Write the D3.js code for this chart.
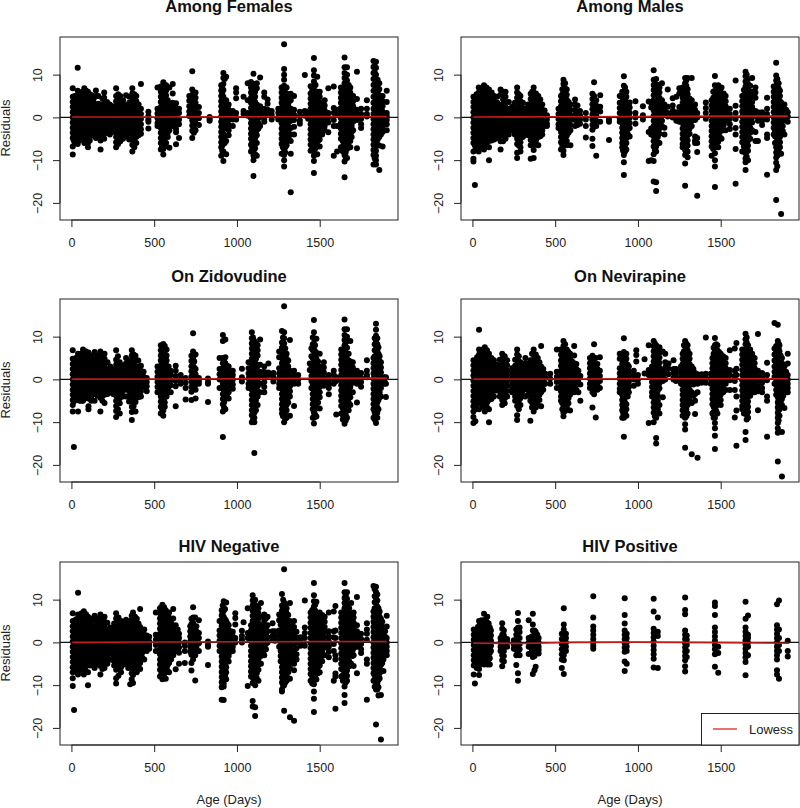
<!DOCTYPE html>
<html>
<head>
<meta charset="utf-8">
<script src="https://cdn.jsdelivr.net/npm/d3@7"></script>
<style>
  html, body { margin: 0; padding: 0; background: #fff; }
  svg { display: block; font-family: "Liberation Sans", Arial, sans-serif; }
</style>
</head>
<body>
<svg id="chart" width="800" height="808"></svg>
<script>
const X_TICKS = [0, 500, 1000, 1500];
const Y_TICKS = [-20, -10, 0, 10];
const X_DOMAIN = [-69, 1973];
const Y_DOMAIN = [-24, 18.8];

// each column is [age in days, residuals read at that age]
const females = [
  [8,[6.8,4.8,3.6,2.4,1.2,0,-1.2,-2.4,-3.6,-4.8,-6.8,-8.7]],
  [20,[5,3.8,2.5,1.3,.1,-1.1,-2.3,-3.5,-4.7,-6]],
  [38,[11.6,6.2,5,3.7,2.5,1.4,.2,-1,-2.2,-3.4,-4.6,-6.2]],
  [58,[5.4,4.2,3,1.8,.6,-.6,-1.8,-3,-4.2,-5.2]],
  [78,[6.8,5.6,4.4,3.2,2,.8,-.4,-1.6,-2.8,-4,-5.2,-6]],
  [100,[6,4.7,3.5,2.3,1.1,-.1,-1.3,-2.5,-3.7,-4.9,-6,-7]],
  [122,[5.2,4,2.8,1.6,.4,-.8,-2,-3.2,-4.3]],
  [148,[6.3,5,2.6,1.4,.2,-1,-2.2,-3.4,-4.8]],
  [176,[3,1.8,.6,-.6,-1.8,-3,-4.2,-5.4,-7.5]],
  [198,[5.8,4.6,3.4,2.2,1,-.2,-1.4,-2.6,-3.8,-5]],
  [232,[3,1.8,.6,-.6,-1.8,-3,-4]],
  [270,[6.8,5,3.8,2.6,1.4,.2,-1,-2.2,-3.4,-4.6,-5.8,-7]],
  [295,[5,3.8,2.6,1.4,.2,-1,-2.2,-3.4,-4.6,-5.6]],
  [330,[5.2,2.8,1.6,.4,-.8,-2,-3.2,-4.4]],
  [368,[6.8,5.6,4.4,3.2,2,.8,-.4,-1.6,-2.8,-4,-5.2,-6.4,-8]],
  [392,[5,3.8,2.6,1.4,.2,-1,-2.2,-3.4,-4.6,-6]],
  [420,[7.8,2,.8,-.4,-1.6,-2.8,-3.8]],
  [465,[1.3,.3,-.5,-1,-2.6]],
  [520,[7,2,.9,-.2,-1.3,-2]],
  [540,[7.2,6,4.8,3.6,2.4,1.2,0,-1.2,-2.4,-3.6,-4.8,-6,-7.5]],
  [555,[8.2,7,5.8,4.6,3.4,2.2,1,-.2,-1.4,-2.6,-3.8,-5,-6.2,-7.4,-8.7]],
  [572,[7.5,6.3,5.1,3.9,2.7,1.5,.3,-.9,-2.1,-3.3,-4.5,-6]],
  [592,[7,3,1.8,.6,-.6,-1.8,-3,-7.1]],
  [612,[7.8,5.6,3.4,2.2,1,-.2,-1.4,-2]],
  [632,[3.3,2.1,.9,-.3,-1.5,-2.7,-3.5,-6.3]],
  [650,[2,1,-.5,-1.6,-4.8]],
  [712,[5,3.9,2.6,1.4,.3]],
  [730,[10.8,6.5,5.3,4.1,2.9,1.7,.5,-.7,-1.9,-3.1,-4.8]],
  [750,[5.8,4.6,3.4,2.2,1,-.2,-1.4,-3]],
  [770,[2.4,1,-.2,-1.8]],
  [835,[.1,-.4,-.8]],
  [905,[7.5,6.3,5,3.8,2.6,1.4,.2,-1,-2.2,-3.4,-4.6,-5.8,-7,-9]],
  [918,[10.4,9.2,7.8,6.4,4.8,3.4,2.2,1,-.2,-1.4,-2.6,-3.8,-5,-6.2,-8,-10.2]],
  [935,[9.5,4,2.8,1.6,.4,-.8,-2,-5.5,-8.6]],
  [950,[3,1.8,.6,-.6,-1.8,-3,-4.2]],
  [975,[1.5,.5,-.5,-2]],
  [995,[6.8,5.8,4.5,1,0,-.5]],
  [1040,[4.8,1.5,.8]],
  [1065,[8,4,1,.4]],
  [1085,[8.3,7,5.8,4.6,3.4,2.2,1,-.2,-1.4,-2.6,-3.8,-5,-6.4,-8]],
  [1100,[10.2,7.8,6.6,5.4,4.2,3,1.8,.6,-.6,-1.8,-3,-4.2,-5.4,-6.6,-7.8,-9,-10,-13.7]],
  [1120,[8,6.8,3,1.8,.6,-.6,-1.8,-3,-4.2,-6,-9]],
  [1140,[9.3,2.6,1.4,.2,-2]],
  [1165,[5.8,4.8,2,.8,-.4,-1]],
  [1185,[4.2,3.2,1.8,1]],
  [1210,[1.5,.6,-.5]],
  [1250,[2,1,0,-.5]],
  [1270,[7,5.8,4.6,3.4,2.2,1,-.2,-1.4,-2.6,-3.8,-5,-6.2,-8.5]],
  [1285,[17.1,11.3,10,8.8,7.4,6,4.6,3.2,2,.8,-.4,-1.6,-2.8,-4,-5.2,-6.4,-7.6,-8.8,-10,-11.5]],
  [1300,[7,5.6,4.2,3,1.8,.6,-.6,-1.8,-3,-4.2,-5.4,-6.5]],
  [1325,[5.5,4,2,.8,-.8,-2.5,-4,-5.5,-8.5,-17.5]],
  [1345,[5,1.8,.6,-.6,-2.2,-4]],
  [1380,[1.3,.3,-.7,-1.5]],
  [1410,[9.9,1.5,.4]],
  [1430,[1.3,.5,-.3]],
  [1445,[7.3,5.6,4.4,3.2,2,.8,-.4,-1.6,-2.8,-4,-5.2,-6.4,-7.8]],
  [1465,[13.9,11,9.8,8.4,7,5.6,4.2,3,1.8,.6,-.6,-1.8,-3,-4.2,-5.4,-6.6,-7.8,-9,-10.2,-13]],
  [1485,[9.5,6,4.6,3.2,2,.8,-.4,-1.6,-2.8,-4.6,-6.5,-8.6]],
  [1500,[6,4.8,3.6,2.4,1.2,0,-1.2,-2.4,-3.6,-5.2,-6.8]],
  [1530,[4,2.8,1.6,.4,-.8,-2,-3]],
  [1552,[6.8,1,0,-1.2,-3.5]],
  [1585,[7.2,2.2,1,-.6,-2,-9]],
  [1605,[1.8,.6,-2,-8]],
  [1628,[7,5.8,4.6,3.4,2.2,1,-.2,-1.4,-2.6,-3.8,-5,-7]],
  [1650,[14,11.7,10.4,9.2,8,6.8,5.6,4.4,3.2,2,.8,-.4,-1.6,-2.8,-4,-5.2,-6.4,-7.6,-8.8,-10.3,-14]],
  [1665,[11.7,10,8.6,7,5.8,4.6,3.4,2.2,1,-.2,-1.4,-2.6,-3.8,-5,-6.2,-7.4,-9.5]],
  [1685,[7,5.8,4.6,3.4,2.2,1,-.2,-1.4,-2.6,-4,-5.5,-7]],
  [1702,[5,3.8,2.6,1.4,.2,-1,-3]],
  [1725,[10.7,4.3,1.8,.6,-.6,-7.2]],
  [1750,[2,.8,-.4,-1.6,-2.5]],
  [1785,[4,2,.8,.2]],
  [1825,[13.2,11.8,10.4,9,7.6,6.2,4.8,3.4,2,.8,-.4,-1.6,-2.8,-4,-5.2,-6.4,-7.6,-8.8,-11]],
  [1840,[13,11.6,10,8.6,7.2,5.8,4.4,3,1.8,.6,-.6,-1.8,-3,-4.2,-5.4,-6.6,-7.8,-9,-10,-11]],
  [1860,[8,6.6,5.2,3.8,2.6,1.4,.2,-1,-2.2,-3.4,-4.6,-6.6,-12.3]],
  [1880,[5,3.8,2.6,1.4,.2,-1,-2.2,-3.4,-6.8]],
  [1905,[6.2,3.6,1,.2,-.6,-1.6,-3]]
];
const femalesDense = [
  [14,[4,2.9,1.7,.5,-.7,-1.9,-3,-4.2,-5.4]],[29,[4.4,3.2,1.9,.7,-.5,-1.7,-2.9,-4.1,-5.2]],[48,[5.8,4.4,3.1,1.9,.8,-.4,-1.6,-2.8,-4,-5.4]],
  [68,[6,4.8,3.6,2.4,1.2,0,-1.2,-2.4,-3.6,-4.6]],[89,[6.2,5,3.8,2.6,1.5,.2,-1,-2.2,-3.4,-4.4,-5.6]],[111,[5.4,4.2,2.9,1.7,.5,-.7,-1.9,-3.1,-4.3,-5.4]],
  [135,[4.4,3.4,2,.8,-.4,-1.6,-2.8,-4]],[162,[5,3.2,2,.8,-.4,-1.6,-2.8,-4]],[187,[4.4,2.6,1.2,0,-1.2,-2.4,-3.6,-4.8]],
  [215,[3.6,2.4,1.2,0,-1.2,-2.4,-3.6]],[250,[2.6,1.4,.2,-1,-2.2,-3.4]],[282,[5.4,4.4,3.2,2,.8,-.4,-1.6,-2.8,-4,-5.2,-6.2]],
  [312,[4,3.2,2,.8,-.4,-1.6,-2.8,-4,-5]],[349,[4.8,3.4,2.2,1,-.2,-1.4,-2.6,-3.8,-5.2]],[380,[5.4,4,2.8,1.6,.4,-.8,-2,-3.2,-4.4,-5.6,-7]],
  [406,[3,1.4,.2,-1,-2.2,-3.4,-4.2]],[547,[6.4,5.2,4,2.8,1.6,.4,-.8,-2,-3.2,-4.4,-5.6,-6.8]],[563,[7.6,6.4,5.2,4,2.8,1.6,.4,-.8,-2,-3.2,-4.4,-5.6,-6.8]],
  [582,[4,2.4,1.2,0,-1.2,-2.4,-3.6,-4.6]],[622,[2.8,1.6,.4,-.8,-2]],[740,[5.6,3.6,2.3,1.1,-.1,-1.3,-2.5,-3.6]],[911,[6.8,5.6,4.2,3,1.8,.6,-.6,-1.8,-3,-4.2,-5.4,-6.6,-7.8]],
  [926,[9,3.6,2.4,1.2,0,-1.2,-2.4,-4.4,-6]],[942,[2.2,1,-.2,-1.4,-2.6]],[1092,[7.4,6.2,5,3.8,2.6,1.4,.2,-1,-2.2,-3.4,-4.6,-5.8,-7]],
  [1110,[7.2,6,4.8,3.6,2.4,1.2,0,-1.2,-2.4,-3.6,-4.8,-6,-7.2,-8.6]],[1130,[2.2,1,-.2,-1.4,-2.6]],[1277,[6.4,5.2,4,2.8,1.6,.4,-.8,-2,-3.2,-4.4,-5.6,-7]],
  [1292,[6.8,5.4,4,2.6,1.4,.2,-1,-2.2,-3.4,-4.6,-5.8,-7,-8.2]],[1312,[4.8,3.4,2.4,1.2,0,-1.2,-2.4,-3.6,-4.8]],[1455,[6.4,5,3.8,2.6,1.4,.2,-1,-2.2,-3.4,-4.6,-5.8,-7]],
  [1475,[7.6,5,3.8,2.6,1.4,.2,-1,-2.2,-3.4,-4.6,-5.8,-7.2]],[1492,[5.4,4,2.6,1.4,.2,-1,-2.2,-3.4,-5.4]],[1515,[3.4,2.2,1,-.2,-1.4,-2.6,-4]],
  [1640,[6.4,5.2,4,2.8,1.6,.4,-.8,-2,-3.2,-4.4,-5.6,-6.8,-8]],[1657,[9,7.6,6.2,5,3.8,2.6,1.4,.2,-1,-2.2,-3.4,-4.6,-5.8,-7,-8.2,-9.4]],[1675,[7.6,6.4,5.2,4,2.8,1.6,.4,-.8,-2,-3.2,-4.4,-5.6,-6.8]],
  [1693,[5,3.8,2.6,1.4,.2,-1,-2,-3.4,-4.6]],[1832,[12,10.6,9.2,7.8,6.4,5,3.6,2.4,1.2,0,-1.2,-2.4,-3.6,-4.8,-6,-7.2,-8.4,-9.6]],[1850,[8.8,7.4,6,4.6,3.2,2,.8,-.4,-1.6,-2.8,-4,-5.2,-6.4]],
  [1870,[4.6,3.2,2,.8,-.4,-1.6,-2.8,-4]]
];

const males = [
  [6,[4.8,3.6,2.4,1.2,0,-1.2,-2.4,-3.6,-4.8,-6,-8,-9.7,-10.3]],
  [15,[4.2,3,1.8,.6,-.6,-1.8,-3,-4.2,-5.4,-6.6,-7.8,-15.8]],
  [38,[7,5.8,4.6,3.4,2.2,1,-.2,-1.4,-2.6,-3.8,-5,-6.2,-8]],
  [70,[7.5,6.3,5.1,3.9,2.7,1.5,.3,-.9,-2.1,-3.3,-4.5,-5.7,-7.5]],
  [100,[6.5,5.3,4.1,2.9,1.7,.5,-.7,-1.9,-3.1,-4.3,-5.5,-7,-10]],
  [132,[5,3.8,2.6,1.4,.2,-1,-2.2,-3.4,-4.6,-5.2]],
  [170,[6.5,5.3,2.9,1.7,.5,-.7,-1.9,-3.1,-4.3,-5.6,-7.5]],
  [200,[6,4.8,3.6,2.4,1.2,0,-1.2,-2.4,-3.6,-5]],
  [240,[2.5,1.3,.1,-1.1,-2.3,-3]],
  [270,[7,5.8,4.6,3.4,2.2,1,-.2,-1.4,-2.6,-3.8,-5,-6.2,-8.3,-9.5]],
  [290,[5,3.8,2.6,1.4,.2,-1,-2.2,-3.4,-4.6,-5.8,-7,-8]],
  [320,[2,.8,-.4,-1.6,-2.8,-4]],
  [352,[5.5,4.3,3.1,1.9,.7,-.5,-1.7,-2.9,-4.1,-5.3,-6.5,-9.7]],
  [370,[7,5.8,4.6,3.4,2.2,1,-.2,-1.4,-2.6,-3.8,-5,-6.2,-7.6,-9.5]],
  [398,[5,3.8,2.6,1.4,.2,-1,-2.2,-3.4,-4.6,-6.5]],
  [422,[3,1.8,.6,-.6,-1.8,-3,-4]],
  [450,[.5,-.5,-1.5,-2]],
  [520,[2,.8,-.4,-1.6,-2.5]],
  [535,[5,3.8,2.6,1.4,.2,-1,-2.2,-3.4,-4.6,-5.8,-7.5]],
  [550,[8.8,7.8,6.6,5.4,4.2,3,1.8,.6,-.6,-1.8,-3,-4.2,-5.4,-6.6,-7.8,-8.8]],
  [570,[6.5,5.3,4.1,2.9,1.7,.5,-.7,-1.9,-3.1,-4.3,-5.5,-6.5]],
  [592,[3,1.8,.6,-.6,-1.8,-3,-6.5]],
  [620,[4.2,3,1.8,.6,-.6,-2]],
  [650,[1.5,.5,-.5,-1.5]],
  [685,[1,-.5,-2,-4.7]],
  [725,[5.5,4.3,3.1,1.9,.7,-.5,-1.7,-2.9,-5,-6.7]],
  [735,[8.2,5,3.8,2.6,1.4,.2,-1,-2.2]],
  [748,[4,2.8,1.6,.4,-.8,-2,-9]],
  [772,[5.2,2.5,1.4,-1]],
  [825,[-.5,-1,-5.3]],
  [890,[5,3.4,2.2,1,-.2,-1]],
  [905,[6,4.8,3.6,2.4,1.2,0,-1.2,-2.4,-3.6,-4.8,-6,-7]],
  [915,[9.6,7.4,6,4.6,3.4,2.2,1,-.2,-1.4,-2.6,-3.8,-5,-6.2,-7.4,-8.8,-10.5,-13.5]],
  [930,[6,4.8,3.6,2.4,1.2,0,-1.2,-2.4,-3.6,-4.8,-6,-7.5]],
  [950,[3.5,2.3,1.1,-.1,-1.3,-2.5,-4.5]],
  [985,[3.8,1,0,-1.5]],
  [1030,[2.6,.5,-.5]],
  [1065,[3.7,-3.4,-10.2]],
  [1080,[3.5,2.3,-2.6,-4,-10]],
  [1095,[11,8.8,7.6,6.4,5.2,4,2.8,1.6,.4,-.8,-2,-3.2,-4.4,-5.6,-6.8,-8.6,-10.2,-15]],
  [1110,[9,7.6,6.4,5.2,4,2.8,1.6,.4,-.8,-2,-3.2,-4.4,-5.6,-6.8,-8,-15.2,-17.2]],
  [1130,[7,5.8,4.6,3.4,2.2,1,-.2,-1.4,-2.6,-3.8,-6]],
  [1145,[8,4,2.8,1.6,.4,-.8,-2]],
  [1160,[3,1.8,.6,-2.4,-4]],
  [1180,[6.5,2.5,1,.2]],
  [1210,[4.5,2.8,1.6,.6,0]],
  [1232,[4.8,1.2,0,-.8]],
  [1250,[6.8,5.6,2.4,1.2,0,-1]],
  [1270,[7,5.8,4.6,3.4,2.2,1,-.2,-1.4,-2.6,-3.8,-5,-6.2,-7]],
  [1285,[9.2,8,6.8,5.6,4.4,3.2,2,.8,-.4,-1.6,-2.8,-4,-5.2,-6.4,-7.6,-8.8,-10.8,-16]],
  [1300,[9.2,6.6,5.4,4.2,3,1.8,.6,-.6,-1.8,-3,-4.2,-5.4,-6.6,-8,-9.3]],
  [1325,[9.2,4,2.8,1.6,.4,-.8,-2]],
  [1345,[3,1.8,.6,-.6,-4.5,-5.4,-6]],
  [1358,[1,0,-4.8,-6,-8.1,-18.3]],
  [1410,[3.5,2.2,1,-.3]],
  [1445,[4,2.8,1.6,.4,-.8,-2,-3.2,-4.4,-5.6,-6.8,-9]],
  [1465,[9.7,7.5,6.2,5,3.8,2.6,1.4,.2,-1,-2.2,-3.4,-4.6,-5.8,-7,-8.4,-10,-11.5,-16.3]],
  [1485,[7.5,6.3,5.1,3.9,2.7,1.5,.3,-.9,-2.1,-3.3,-4.5,-5.7,-7]],
  [1505,[7,5.6,4.4,3.2,2,.8,-.4,-1.6,-2.8,-5]],
  [1530,[5,3.8,2.6,1.4,.2,-1,-3]],
  [1555,[2,.8,-.4,-1.6,-2.7]],
  [1590,[8.6,2.7,1,-.4,-2.5,-4,-7.4,-15.5]],
  [1630,[5,3.8,2.6,1.4,.2,-1,-2.2,-3.4,-4.6,-5.8,-8]],
  [1650,[10.7,9.6,8.4,7.2,6,4.8,3.6,2.4,1.2,0,-1.2,-2.4,-3.6,-4.8,-6,-7.2,-8.4,-9.6,-10.5,-12.3]],
  [1665,[9,7.8,6.6,5.4,4.2,3,1.8,.6,-.6,-1.8,-3,-4.2,-5.4,-6.6,-7.8,-10]],
  [1690,[9.2,6,4.8,3.6,2.4,1.2,0,-1.2,-3]],
  [1710,[7,5.8,4.6,1.5,.3,-3.4,-5.5]],
  [1725,[1.2,.2,-.8,-5.5]],
  [1750,[1.2,.2,-.8,-1.8]],
  [1780,[4.6,2,.8,-.5,-4,-4.8,-13.4]],
  [1820,[7.2,6,4.8,3.6,2.4,1.2,0,-1.2,-2.4,-4]],
  [1835,[12.8,9.8,8.6,7.4,6.2,5,3.8,2.6,1.4,.2,-1,-2.2,-3.4,-4.6,-5.8,-7,-8.2,-9.4,-10.6,-12.3,-19.3]],
  [1850,[8,6.8,5.6,4.4,3.2,2,.8,-.4,-1.6,-2.8,-4,-5.2,-6.4,-7.6,-8.5]],
  [1865,[3.5,2.3,1.1,-.1,-1.3,-2.5,-3.7,-8.5,-22.6]],
  [1885,[3,1.8,.6,-.6,-4]],
  [1905,[1.2,.2,-1]]
];
const malesDense = [
  [25,[5.4,4,2.8,1.6,.4,-.8,-2,-3.2,-4.4,-5.6,-7]],[48,[6.6,5.2,4,2.8,1.6,.4,-.8,-2,-3.2,-4.4,-5.6,-7]],[59,[7,5.6,4.4,3.2,2,.8,-.4,-1.6,-2.8,-4,-5.2,-6.6]],
  [85,[7,5.8,4.6,3.2,2.2,1,-.2,-1.4,-2.6,-3.8,-5,-6.6]],[116,[5.8,4.4,3.2,2,.8,-.4,-1.6,-2.8,-4,-5.4]],[150,[4.8,3.4,2.2,1,-.2,-1.4,-2.6,-3.8,-4.8]],
  [185,[6,4.2,3,1.8,.6,-.6,-1.8,-3,-4.2,-5.6]],[220,[3.6,2,.8,-.4,-1.6,-2.8,-4]],[256,[3.4,2,.8,-.4,-1.6,-2.8,-4]],[280,[5.4,4.2,3,1.8,.6,-.6,-1.8,-3,-4.2,-5.4,-6.6]],
  [305,[3.4,2.2,1,-.2,-1.4,-2.6,-3.8,-4.6]],[336,[3,1.8,.6,-.6,-1.8,-3,-4.2]],[361,[6,4.8,3.6,2.4,1.2,0,-1.2,-2.4,-3.6,-4.8,-6]],[384,[5.6,4.2,3,1.8,.6,-.6,-1.8,-3,-4.2,-5.4,-6.4]],
  [410,[4.2,3,1.8,.6,-.6,-1.8,-3,-4.4]],[436,[1.6,.4,-.8,-2]],[543,[6.6,5.4,4.2,3,1.8,.6,-.6,-1.8,-3,-4.2,-5.4,-6.6]],[560,[8,6.8,5.6,4.4,3.2,2,.8,-.4,-1.6,-2.8,-4,-5.2,-6.4]],
  [581,[3.6,2.4,1.2,0,-1.2,-2.4,-3.6]],[635,[2.8,1.4,.2,-1,-1.8]],[910,[5.4,4.2,3,1.8,.6,-.6,-1.8,-3,-4.2,-5.4,-6.6,-7.8]],[922,[7,5.4,4.2,3,1.8,.6,-.6,-1.8,-3,-4.2,-5.4,-6.6,-8]],
  [940,[3.2,2,.8,-.4,-1.6,-2.8,-4]],[1102,[8,6.8,5.6,4.4,3.2,2,.8,-.4,-1.6,-2.8,-4,-5.2,-6.4,-7.6]],[1120,[7.6,6.2,5,3.8,2.6,1.4,.2,-1,-2.2,-3.4,-4.6,-5.8]],[1278,[6.4,5.2,4,2.8,1.6,.4,-.8,-2,-3.2,-4.4,-5.6,-6.8]],
  [1292,[8.6,7.4,6.2,5,3.8,2.6,1.4,.2,-1,-2.2,-3.4,-4.6,-5.8,-7,-8.2]],[1312,[4.4,3.4,2.2,1,-.2,-1.4,-2.6,-3.8]],[1455,[6,4.6,3.4,2.2,1,-.2,-1.4,-2.6,-3.8,-5,-6.2,-7.4]],[1475,[7.2,5.8,4.4,3.2,2,.8,-.4,-1.6,-2.8,-4,-5.2,-6.4]],
  [1495,[6.2,5,3.8,2.6,1.4,.2,-1,-2.2,-3.4,-4.6]],[1518,[5.6,4.2,3,1.8,.6,-.6,-1.8,-3]],[1640,[6.4,5.2,4,2.8,1.6,.4,-.8,-2,-3.2,-4.4,-5.6,-6.8,-8]],[1657,[10,8.8,7.6,6.4,5.2,4,2.8,1.6,.4,-.8,-2,-3.2,-4.4,-5.6,-6.8,-8,-9.2]],
  [1678,[7.4,6,4.8,3.6,2.4,1.2,0,-1.2,-2.4,-3.6,-5]],[1828,[6.4,5.2,4,2.8,1.6,.4,-.8,-2,-3.2,-4.4,-6]],[1842,[9,7.8,6.6,5.4,4.2,3,1.8,.6,-.6,-1.8,-3,-4.2,-5.4,-6.6,-7.8,-9,-11.4]],[1858,[6.2,5,3.8,2.6,1.4,.2,-1,-2.2,-3.4,-4.6,-5.8,-7]],
  [1875,[2.8,1.6,.4,-.8,-2,-3.2]],[1895,[1.8,.6,-.6]]
];

const zidovudine = [
  [8,[6.8,4.8,3.6,2.4,1.2,0,-1.2,-2.4,-3.6,-4.8,-6,-7.5]],
  [15,[4.4,3.2,2,.8,-.4,-1.6,-2.8,-4,-5.2,-15.8]],
  [40,[6,4.8,3.6,2.4,1.2,0,-1.2,-2.4,-3.6,-4.8,-7.5]],
  [70,[7,5.8,4.6,3.4,2.2,1,-.2,-1.4,-2.6,-3.8,-5]],
  [103,[6.3,5.1,3.9,2.7,1.5,.3,-.9,-2.1,-3.3,-4.5,-6.3,-7]],
  [140,[6.4,5,3.8,2.6,1.4,.2,-1,-2.2,-3.4,-5]],
  [175,[6.5,5.3,4.1,2.9,1.7,.5,-.7,-1.9,-3.1,-4.3,-7.5]],
  [200,[6,4.8,3.6,2.4,1.2,0,-1.2,-2.4,-3.6,-5.5]],
  [235,[3,1.8,.6,-.6,-1.8,-3]],
  [270,[6.8,4.6,3.4,2.2,1,-.2,-1.4,-2.6,-3.8,-5,-6.2,-7.4,-8.8]],
  [292,[4,2.8,1.6,.4,-.8,-2,-3.2,-4.4,-5.6,-8]],
  [330,[5,3.8,2.6,1.4,.2,-1,-2.2,-4]],
  [365,[6.8,5.6,4.4,3.2,2,.8,-.4,-1.6,-2.8,-4,-5.2,-6.4,-7.6,-9.5]],
  [387,[5.5,4.3,3.1,1.9,.7,-.5,-1.7,-2.9,-4.1,-5.3,-7.5]],
  [420,[3.2,2,.8,-.4,-1.6,-2.8,-4]],
  [455,[.3,-.6,-1.6,-2.8]],
  [520,[3,1.8,.6,-.6,-1.8,-3]],
  [540,[8,6.8,5.6,4.4,3.2,2,.8,-.4,-1.6,-2.8,-4,-5.2,-6.4,-8]],
  [555,[8.3,7.1,5.9,4.7,3.5,2.3,1.1,-.1,-1.3,-2.5,-3.7,-4.9,-6.1,-7.3,-8.5]],
  [575,[7,5.6,4.4,3.2,2,.8,-.4,-1.6,-2.8,-4]],
  [600,[2,1,-.2,-1.4,-3]],
  [630,[3.2,2,.8,-.4,-1.6,-6.3]],
  [660,[1,0,-1]],
  [690,[.3,-.8,-2,-4.7]],
  [725,[5.5,4.3,3.1,1.9,.7,-.5,-1.7,-2.9,-4.8]],
  [735,[10.8,6.5,5,3.8,2.6,1.4,.2,-1,-2.2]],
  [750,[5.8,2.4,1.2,0,-1.2,-2.4,-4.5]],
  [770,[.3,-.4,-1]],
  [825,[.2,-.6,-1,-5.3]],
  [895,[5,2.4,1.2,0,-2]],
  [915,[10.4,9,5,3.8,2.6,1.4,.2,-1,-2.2,-3.4,-4.6,-5.8,-7.5,-13.5]],
  [930,[9.3,5.2,3.8,2.6,1.4,.2,-1,-2.2,-3.4,-4.6,-7]],
  [950,[3,1.8,.6,-.6,-1.8,-3,-4.5]],
  [975,[2,1,0,-1.2,-2.2]],
  [1030,[2.5,.5,-.5]],
  [1070,[4,2.6,1.4,.2,-1,-2]],
  [1090,[11,9.6,8.4,7.2,6,4.8,3.6,2.4,1.2,0,-1.2,-2.4,-3.6,-4.8,-6,-7.2,-8.4,-10]],
  [1105,[9,7.8,6.6,5.4,4.2,3,1.8,.6,-.6,-1.8,-3,-4.2,-5.4,-6.6,-7.8,-9,-10,-17.2]],
  [1125,[8,6.8,5.6,3.2,2,.8,-.4,-1.6,-2.8,-4,-6]],
  [1140,[9.3,3.4,1.8,.6,-1,-3]],
  [1165,[3,1.8,.6,-.6,-1.8,-3]],
  [1190,[3.7,1.6,1]],
  [1220,[1.5,.5,-.5]],
  [1255,[6.5,5.2,2.6,1.4,.2,-1,-2]],
  [1272,[11.3,8.6,7.4,6.2,5,3.8,2.6,1.4,.2,-1,-2.2,-3.4,-4.6,-5.8,-7,-8]],
  [1285,[17.1,11,9.6,8.4,7.2,6,4.8,3.6,2.4,1.2,0,-1.2,-2.4,-3.6,-4.8,-6,-7.2,-8.4,-10]],
  [1300,[6,4.8,3.6,2.4,1.2,0,-1.2,-2.4,-3.6,-4.8,-6,-7.2,-9]],
  [1320,[9.2,2,.8,-.4,-1.6,-2.8,-4,-8.5]],
  [1345,[2,1,0,-1,-6.2]],
  [1370,[1,0,-1]],
  [1440,[3.7,2.2]],
  [1450,[7.3,5.4,3.2,2,.8,-.4,-2]],
  [1465,[13.9,11,9.6,8.4,7,5.6,4.2,3,1.8,.6,-.6,-1.8,-3,-4.2,-5.4,-6.6,-7.8,-9,-10.3]],
  [1480,[9.5,6.2,4.8,3.4,2.2,1,-.2,-1.4,-2.6,-3.8,-5,-6.2,-8.7]],
  [1500,[6,3,1.8,.6,-.6,-1.8,-3,-4.2,-6.8]],
  [1525,[4,2.8,1.6,.4,-.6,-1.5]],
  [1555,[1,0,-1,-2,-3.5]],
  [1585,[2,1,0,-1]],
  [1600,[.5,-.4,-8.2]],
  [1630,[7,5.8,4.6,3.4,2.2,1,-.2,-1.4,-2.6,-3.8,-5,-6.2,-8]],
  [1650,[14,11.7,10.4,9.2,8,6.8,5.6,4.4,3.2,2,.8,-.4,-1.6,-2.8,-4,-5.2,-6.4,-7.6,-8.8,-10.4]],
  [1665,[11.7,10,9,7.4,6,4.8,3.6,2.4,1.2,0,-1.2,-2.4,-3.6,-4.8,-6,-7.2,-9]],
  [1685,[9,4.2,3,1.8,.6,-.6,-1.8,-3,-4.2,-6]],
  [1700,[4,2.8,1.6,.4,-.8,-3]],
  [1725,[2,1,0,-1,-5.4]],
  [1750,[1.5,.4,-.6,-1.7]],
  [1785,[4.5,2,1,.5]],
  [1825,[5,3.8,2.6,1.4,.2,-1,-2.2,-3.4,-4.6,-5.8,-7,-9]],
  [1840,[13,11.6,10.2,9,7.8,6.6,5.4,4.2,3,1.8,.6,-.6,-1.8,-3,-4.2,-5.4,-6.6,-7.8,-9,-10.2]],
  [1855,[7.5,6,4.8,3.6,2.4,1.2,0,-1.2,-2.4,-3.6,-4.8,-7]],
  [1870,[4,2.8,1.6,.4,-.8,-2,-4]],
  [1890,[.5,-.2,-1]],
  [1900,[.5,-1,-4.1]]
];
const zidovudineDense = [
  [27,[5,3.8,2.6,1.4,.2,-1,-2.2,-3.4,-4.6]],[50,[5.4,4.2,3,1.8,.6,-.6,-1.8,-3,-4.2,-5]],[60,[6,4.6,3.2,2,.8,-.4,-1.6,-2.8,-3.8,-5]],
  [86,[6.6,5.2,4,2.8,1.6,.4,-.8,-2,-3.2,-4.4]],[120,[5.6,4.4,3.2,2,.8,-.4,-1.6,-2.8,-4,-5]],[157,[5.6,4.4,3.2,2,.8,-.4,-1.6,-2.8,-3.8]],
  [187,[5.8,4.6,3.4,2.2,1,-.2,-1.4,-2.6,-3.8,-5]],[218,[4,2.4,1.2,0,-1.2,-2.4,-3.4]],[252,[2.4,1.2,0,-1.2,-2.4,-3.4]],[281,[5.4,4,2.8,1.6,.4,-.8,-2,-3.2,-4.4,-5.6,-7]],
  [311,[3.2,2,.8,-.4,-1.6,-2.8,-4]],[348,[4.4,3.2,2,.8,-.4,-1.6,-2.8,-4,-5.2]],[376,[5.8,4.6,3.4,2.2,1,-.2,-1.4,-2.6,-3.8,-5,-6.2,-7.4]],[404,[4.4,3,1.8,.6,-.6,-1.8,-3,-4.2]],
  [436,[1.8,.6,-.6,-1.8]],[547,[7.6,6.4,5.2,4,2.8,1.6,.4,-.8,-2,-3.2,-4.4,-5.6,-6.8,-7.8]],[564,[7.8,6.6,5.4,4.2,3,1.8,.6,-.6,-1.8,-3,-4.2,-5.4,-6.4]],[587,[3,1.8,.6,-.6,-1.8,-3]],
  [742,[4.2,2.8,1.6,.4,-.8,-2]],[922,[4.2,3,1.8,.6,-.6,-1.8,-3,-4.2,-5.4,-6.6]],[940,[3.2,2,.8,-.4,-1.6,-2.8,-4]],[1097,[9.8,8.4,7.2,6,4.8,3.6,2.4,1.2,0,-1.2,-2.4,-3.6,-4.8,-6,-7.2,-8.4,-9.4]],
  [1115,[8.4,7.2,6,4.8,3.6,2.4,1.2,0,-1.2,-2.4,-3.6,-4.8,-6,-7.2]],[1278,[9.8,8.2,7,5.8,4.6,3.4,2.2,1,-.2,-1.4,-2.6,-3.8,-5,-6.2,-7.4,-8.6]],[1292,[7.2,5.6,4.4,3.2,2,.8,-.4,-1.6,-2.8,-4,-5.2,-6.4,-7.6,-9.2]],[1310,[4.4,3,1.8,.6,-.6,-1.8,-3,-4.2,-5.4]],
  [1458,[9.8,8.2,6.8,5,3.8,2.6,1.4,.2,-1,-2.2,-3.4,-4.6,-5.8,-7,-9]],[1472,[8,6.6,5.2,3.8,2.6,1.4,.2,-1,-2.2,-3.4,-4.6,-5.8,-7,-8.2]],[1490,[4.2,3,1.8,.6,-.6,-1.8,-3,-4.2,-5.4]],[1640,[6.4,5.2,4,2.8,1.6,.4,-.8,-2,-3.2,-4.4,-5.6,-6.8,-8.4,-9.4]],
  [1657,[9.8,8.6,7.4,6.2,5,3.8,2.6,1.4,.2,-1,-2.2,-3.4,-4.6,-5.8,-7,-8.2,-9.6]],[1675,[6,4.4,3.2,2,.8,-.4,-1.6,-2.8,-4,-5.4,-7.2]],[1832,[9.6,8.2,6.8,5.4,4.2,3,1.8,.6,-.6,-1.8,-3,-4.2,-5.4,-6.6,-7.8,-9.4]],[1848,[9.6,8.2,6.8,5.4,4.2,3,1.8,.6,-.6,-1.8,-3,-4.2,-5.4,-6.6,-7.8,-9]],
  [1862,[5.4,4.2,3,1.8,.6,-.6,-1.8,-3,-4.2]]
];

const nevirapine = [
  [6,[4.5,3.3,2.1,.9,-.3,-1.5,-2.7,-3.9,-5.1,-6.3,-7.5,-8.8,-10.2]],
  [18,[4,2.8,1.6,.4,-.8,-2,-3.2,-4.4,-5.6,-7,-9.8]],
  [40,[11.6,7,5.8,4.6,3.4,2.2,1,-.2,-1.4,-2.6,-3.8,-5,-7]],
  [75,[7.5,6.3,5.1,3.9,2.7,1.5,.3,-.9,-2.1,-3.3,-4.5,-5.7,-7.5]],
  [100,[6,4.8,3.6,2.4,1.2,0,-1.2,-2.4,-3.6,-4.8,-7,-10]],
  [130,[4.5,3.3,2.1,.9,-.3,-1.5,-2.7,-4]],
  [180,[6,4.8,3.6,2.4,1.2,0,-1.2,-2.4,-3.6,-4.8,-6]],
  [210,[4.5,3.3,2.1,.9,-.3,-1.5,-2.7,-4]],
  [270,[7,5.8,4.6,3.4,2.2,1,-.2,-1.4,-2.6,-3.8,-5,-6.2,-8.4,-9.5]],
  [290,[4,2.8,1.6,.4,-.8,-2,-3.2,-4.4,-6]],
  [320,[5,3.8,2.6,1.4,.2,-1,-2.2,-4]],
  [350,[4.5,3.3,2.1,.9,-.3,-1.5,-2.7,-3.9,-5,-9.7]],
  [370,[7,5.8,4.6,3.4,2.2,1,-.2,-1.4,-2.6,-3.8,-5,-6.2,-7.5]],
  [395,[5,3.8,2.6,1.4,.2,-1,-2.2,-3.4,-4.6,-6]],
  [415,[7.8,3,1.8,.6,-.6,-1.8,-3,-6.3]],
  [440,[1.3,.3,-1]],
  [470,[1.3,.2,-1]],
  [510,[7,1.8,.6,-.6,-2]],
  [535,[7,5.8,4.4,3.2,2,.8,-.4,-1.6,-2.8,-4,-5]],
  [550,[9,7.8,6.6,5.4,4.2,3,1.8,.6,-.6,-1.8,-3,-4.2,-5.4,-6.6,-7.8,-8.6]],
  [570,[7,5.8,4.6,3.4,2.2,1,-.2,-1.4,-2.6,-3.8,-5,-6.5]],
  [590,[6,4.8,3.6,2.4,1.2,0,-1.2,-2.4,-3.6,-7.3]],
  [615,[7.8,5.6,3.8,2.6,1.4,.2,-1,-3]],
  [640,[2,1,0,-1,-3]],
  [652,[.8,-1.2,-5]],
  [710,[5,3.8,2.6,1.4,.2,-1,-2]],
  [725,[5.5,4.3,3.1,1.9,.7,-.5,-1.7,-3,-6.6]],
  [735,[8.2,5,3.8,2.6,1.4,.2,-1,-2.2,-3.5]],
  [745,[5,2.8,1.6,.4,-.8,-2,-8.9]],
  [770,[5.2,2,.8,-.4,-2]],
  [890,[6,4.8,2.6,1.4,.2,-1,-2.2,-3]],
  [905,[6,4.8,3.6,2.4,1.2,0,-1.2,-2.4,-3.6,-4.8,-6,-7.2,-9]],
  [915,[9.6,6.4,5,3.8,2.6,1.4,.2,-1,-2.2,-3.4,-4.6,-5.8,-7,-8.2,-9,-13.4]],
  [930,[6,4.8,3.6,2.4,1.2,0,-1.2,-2.4,-3.6,-5.8,-7,-8.5]],
  [945,[3,1.8,.6,-.6,-1.8,-3]],
  [975,[2,1,0,-1.5]],
  [990,[6.8,5.7,4.2]],
  [1000,[1,0,-1]],
  [1040,[4.7,1.4]],
  [1065,[8,2.2,1,-10.2]],
  [1085,[3,1.8,.6,-.6,-1.8,-3,-4]],
  [1095,[9,7.8,6.6,5.4,4.2,3,1.8,.6,-.6,-1.8,-3,-4.2,-5.4,-6.6,-7.8,-10]],
  [1110,[8,6.8,5.6,4.4,3.2,2,.8,-.4,-1.6,-2.8,-4,-5.2,-6.4,-7.6,-9,-13.7,-15]],
  [1130,[7.5,6.3,5.1,3.9,2.7,1.5,.3,-.9,-2.1,-6,-8]],
  [1150,[6.5,2,.8,-.4,-4.2]],
  [1165,[6,4,2.8,1.4,0]],
  [1185,[3.7,2.5,1.2]],
  [1215,[4.5,2.4,1.5,.4,0]],
  [1260,[3,1.8,.6,-.4,-1]],
  [1270,[6,4.8,3.6,2.4,1.2,0,-1.2,-2.4,-3.6,-4.8,-6,-7.2,-8.5]],
  [1285,[9,7.8,6.6,5.4,4.2,3,1.8,.6,-.6,-1.8,-3,-4.2,-5.4,-6.6,-7.8,-9,-10.5,-11.7,-16]],
  [1300,[8,6.8,5.6,4.4,3.2,2,.8,-.4,-1.6,-2.8,-6,-8]],
  [1325,[3,1.8,.6,-.6,-3,-5.5,-17.5]],
  [1345,[1.5,.5,-.5,-3.4,-5,-8.1]],
  [1360,[1.2,.2,-1,-3,-18.3]],
  [1410,[9.8,1.3,.2,-.8]],
  [1440,[1.3,.2,-1]],
  [1450,[5,3.8,2.6,1.4,.2,-1,-2.2,-3.4,-4.6,-5.8,-8]],
  [1465,[9.7,8,6.6,5.4,4.2,3,1.8,.6,-.6,-1.8,-3,-4.2,-5.4,-6.6,-7.8,-9,-10.2,-11.4,-13.2,-16.3]],
  [1480,[8,6.8,5.6,4.4,3.2,2,.8,-.4,-1.6,-2.8,-4,-5.2,-8]],
  [1500,[6,4.8,3.6,2.4,1.2,0,-1.2,-2.4,-3.6,-4.8,-6]],
  [1530,[5,3.8,2.6,1.4,.2,-1,-2.5]],
  [1555,[6.8,2.2,1,-.2,-2.5]],
  [1585,[7.2,2,.8,-.4,-2.5,-8.9]],
  [1595,[8.5,2.5,1,-4,-7.3,-15.5]],
  [1630,[7,5.8,4.6,3.4,2.2,1,-.2,-1.4,-2.6,-3.8,-5,-6.2,-7]],
  [1650,[10.7,9.4,8.2,7,5.8,4.6,3.4,2.2,1,-.2,-1.4,-2.6,-3.8,-5,-6.2,-8,-12.3,-14.2]],
  [1665,[8,6.8,5.6,4.4,3.2,2,.8,-.4,-1.6,-2.8,-4,-5.2,-6.4,-7.6,-9]],
  [1690,[6,4.8,3.6,2.4,1.2,0,-1.2,-3]],
  [1705,[5,3.8,2.6,1.4,.2,-1,-3]],
  [1725,[10.6,2,.8,-.4,-1.6,-2.8,-7.2]],
  [1750,[1.5,.4,-.8,-2,-3]],
  [1780,[3.9,1,-.2,-4,-5,-13.4]],
  [1825,[13.2,7.2,5.8,4.4,3,1.8,.6,-1]],
  [1845,[12.8,9,7.8,6.6,5.4,4.2,3,1.8,.6,-.6,-1.8,-3,-4.2,-5.4,-6.6,-7.8,-9,-10.2,-11.4,-12.5,-19.2]],
  [1855,[8,6.6,5.2,3.8,2.6,1.4,.2,-1,-2.2,-3.4,-4.6,-5.8,-7,-8.5]],
  [1870,[5,3.8,2.6,1.4,.2,-1,-2.2,-3.4,-4.6,-6,-12.3,-22.7]],
  [1885,[3,1.8,.6,-.6,-1.8,-3,-6.7]],
  [1905,[6,3.7,1,0,-1,-2,-3]]
];
const nevirapineDense = [
  [28,[5.2,3.8,2.6,1.4,.2,-1,-2.2,-3.4,-4.6,-5.8]],[50,[6.6,5.2,4,2.8,1.6,.4,-.8,-2,-3.2,-4.4,-5.6]],[62,[7,5.6,4.4,3.2,2,.8,-.4,-1.6,-2.8,-4,-5.2,-6.4]],
  [88,[6.8,5.4,4.2,3,1.8,.6,-.6,-1.8,-3,-4.2,-5.4,-6.6]],[115,[5,3.8,2.6,1.4,.2,-1,-2.2,-3.4,-4.6]],[148,[3.4,2.2,1,-.2,-1.4,-2.6]],[165,[4.6,3.2,2,.8,-.4,-1.6,-2.8,-4]],
  [195,[5.4,4,2.8,1.6,.4,-.8,-2,-3.2,-4.4,-5.6]],[240,[2.6,1.4,.2,-1,-2.2,-3]],[258,[4.6,3.2,2,.8,-.4,-1.6,-2.8,-4,-5]],[280,[5.4,4.2,3,1.8,.6,-.6,-1.8,-3,-4.2,-5.4,-7]],
  [305,[3.4,2.2,1,-.2,-1.4,-2.6,-3.8]],[336,[3.6,2.4,1.2,0,-1.2,-2.4,-3.6]],[360,[6,4.4,3,1.8,.6,-.6,-1.8,-3,-4.2,-5.4,-6.6]],[383,[5.8,4.4,3.2,2,.8,-.4,-1.6,-2.8,-4,-5.2,-6.6]],
  [405,[4,2.4,1.2,0,-1.2,-2.4,-3.6,-4.8]],[428,[2.4,1.2,0,-1.2,-2.4]],[543,[6.4,5.2,4,2.8,1.6,.4,-.8,-2,-3.2,-4.4,-5.6,-7]],[560,[8.2,7,5.8,4.6,3.4,2.2,1,-.2,-1.4,-2.6,-3.8,-5,-6.2,-7.4]],
  [580,[6.4,5.2,4,2.8,1.6,.4,-.8,-2,-3.2,-4.4,-5.6]],[602,[4.2,3,1.8,.6,-.6,-1.8]],[628,[3.6,2.4,1.2,0,-1.2,-2.4]],[718,[4.2,3,1.8,.6,-.6,-1.8]],[755,[3.6,2.4,1.2,0,-1.2,-2.4]],
  [910,[5.4,4.2,3,1.8,.6,-.6,-1.8,-3,-4.2,-5.4,-6.6,-7.8]],[922,[5.6,4.2,3,1.8,.6,-.6,-1.8,-3,-4.2,-5.4,-6.6,-7.8]],[938,[3.4,2.2,1,-.2,-1.4,-2.6,-4]],[1102,[8.4,7.2,6,4.8,3.6,2.4,1.2,0,-1.2,-2.4,-3.6,-4.8,-6,-7.2,-8.6]],
  [1120,[7,5.8,4.6,3.4,2.2,1,-.2,-1.4,-2.6,-3.8,-5,-7]],[1230,[2.4,1.4,.4,-.4]],[1278,[8,6.6,5.4,4.2,3,1.8,.6,-.6,-1.8,-3,-4.2,-5.4,-6.6,-7.8]],[1292,[8.4,7.2,6,4.8,3.6,2.4,1.2,0,-1.2,-2.4,-3.6,-4.8,-7,-8.6]],
  [1312,[6,4.8,3.6,2.4,1.2,0,-1.2,-2.4,-3.6,-4.8]],[1335,[2.4,1.2,0,-1.2,-3.8]],[1385,[1.2,.2,-.8]],[1457,[7.4,6,4.6,3.2,2,.8,-.4,-1.6,-2.8,-4,-5.2,-6.4,-7.6,-9]],[1473,[8.2,7,5.8,4.6,3.4,2.2,1,-.2,-1.4,-2.6,-3.8,-5,-6.2,-7.4]],
  [1490,[6.4,5.2,4,2.8,1.6,.4,-.8,-2,-3.2,-4.4,-5.6]],[1515,[5.4,4.2,3,1.8,.6,-.6,-1.8,-3]],[1640,[6.4,5.2,4,2.8,1.6,.4,-.8,-2,-3.2,-4.4,-5.6,-6.8,-8]],[1657,[9.8,8.6,7.4,6.2,5,3.8,2.6,1.4,.2,-1,-2.2,-3.4,-4.6,-5.8,-7,-8.2,-9.4]],
  [1678,[7,5.8,4.6,3.4,2.2,1,-.2,-1.4,-2.6,-3.8]],[1698,[5,3.8,2.6,1.4,.2,-1,-2.2]],[1835,[7.8,6.4,5,3.6,2.4,1.2,0,-1.2,-2.4,-3.6]],[1850,[8.4,7.2,6,4.8,3.6,2.4,1.2,0,-1.2,-2.4,-3.6,-4.8,-6,-7.2,-8.4,-9.6]],
  [1862,[5.6,4.4,3.2,2,.8,-.4,-1.6,-2.8,-4,-5.2,-6.4]],[1878,[3.4,2.2,1,-.2,-1.4,-2.6,-3.8]],[1895,[1.8,.6,-.6,-1.8]]
];

const hivNegative = [
  [8,[6.8,5,3.8,2.6,1.4,.2,-1,-2.2,-3.4,-4.6,-5.8,-7,-8.4,-10.2]],
  [16,[4.6,3.4,2.2,1,-.2,-1.4,-2.6,-3.8,-5,-6.2,-15.8]],
  [40,[11.6,6.5,5.3,4.1,2.9,1.7,.5,-.7,-1.9,-3.1,-4.3,-5.5,-7.5]],
  [75,[7.3,6.1,4.9,3.7,2.5,1.3,.1,-1.1,-2.3,-3.5,-4.7,-5.9,-7.5]],
  [100,[6,4.8,3.6,2.4,1.2,0,-1.2,-2.4,-3.6,-4.8,-7,-10]],
  [140,[6.2,5,3.8,2.6,1.4,.2,-1,-2.2,-3.4,-4.6,-6]],
  [175,[6.5,5.3,4.1,2.9,1.7,.5,-.7,-1.9,-3.1,-4.3,-5.5,-7.5]],
  [200,[6,4.8,3.6,2.4,1.2,0,-1.2,-2.4,-3.6,-4.8,-6]],
  [235,[3.5,2.3,1.1,-.1,-1.3,-2.5,-4]],
  [270,[6.8,5.6,4.4,3.2,2,.8,-.4,-1.6,-2.8,-4,-5.2,-6.4,-8.4,-9.6]],
  [300,[5,3.8,2.6,1.4,.2,-1,-2.2,-3.4,-4.6,-5.8,-7]],
  [330,[5.3,4.1,2.9,1.7,.5,-.7,-1.9,-3.1,-4.3,-5]],
  [355,[5,3.8,2.6,1.4,.2,-1,-2.2,-3.4,-4.6,-5.8,-9.8]],
  [372,[7,5.8,4.6,3.4,2.2,1,-.2,-1.4,-2.6,-3.8,-5,-6.2,-7.6,-9.5]],
  [395,[5.5,4.3,3.1,1.9,.7,-.5,-1.7,-2.9,-4.1,-5.3,-7]],
  [415,[7.8,3.6,2.4,1.2,0,-1.2,-2.4,-3.6,-4.8,-6.2]],
  [440,[3,1.8,.6,-.6,-1.8,-4]],
  [470,[1.3,.2,-.6,-1.5]],
  [510,[7,1.8,.6,-.6,-2]],
  [535,[8,6.8,5.6,4.4,3.2,2,.8,-.4,-1.6,-2.8,-4,-5.2,-6.4,-8]],
  [550,[8.8,7.6,6.4,5.2,4,2.8,1.6,.4,-.8,-2,-3.2,-4.4,-5.6,-6.8,-8,-8.6]],
  [570,[7.5,6.3,5.1,3.9,2.7,1.5,.3,-.9,-2.1,-3.3,-4.5,-5.7,-6.9,-8.5]],
  [590,[7,5.8,3.6,2.4,1.2,0,-1.2,-2.4,-3.6,-4.8,-7]],
  [615,[7.8,5.6,3.8,2.6,1.4,.2,-1,-3]],
  [630,[4,2.8,1.6,.4,-.8,-2,-6.3]],
  [650,[2,1,0,-1.2,-2.4,-5]],
  [685,[0,-.8,-2,-4.8]],
  [725,[5.5,4.3,3.1,1.9,.7,-.5,-1.7,-2.9,-4.8,-6.6]],
  [735,[8.2,5.8,4.6,3.4,2.2,1,-.2,-1.4,-2.6,-4]],
  [748,[5.8,3.4,2.2,1,-.2,-1.4,-3,-8.9]],
  [770,[5.2,2.2,1,-.2,-2]],
  [825,[.2,-.6,-1,-5.3]],
  [895,[5,2.8,1.6,.4,-.8,-2]],
  [908,[7.5,6.3,5.1,3.9,2.7,1.5,.3,-.9,-2.1,-3.3,-4.5,-5.7,-6.9,-8.1,-9.3,-10.5,-13.4]],
  [920,[9.6,7.4,6,4.8,3.6,2.4,1.2,0,-1.2,-2.4,-3.6,-4.8,-6,-7.2,-8.4,-9.6,-10.3,-13.5]],
  [935,[9.3,5,3.8,2.6,1.4,.2,-1,-2.2,-3.4,-4.6,-5.8,-7,-8.6]],
  [950,[4,2.8,1.6,.4,-.8,-2,-3.2,-4.5]],
  [975,[2.5,1.4,.2,-1,-2]],
  [990,[6.8,5.7,4.2,1,0]],
  [1030,[2.7,1.5,.6,0]],
  [1040,[4.7]],
  [1065,[8,2.2,1,-10.2]],
  [1085,[4,2.8,1.6,.4,-.8,-2,-3.2,-4.4,-5.6,-6.8,-8]],
  [1095,[11,9.8,8.6,7.4,6.2,5,3.8,2.6,1.4,.2,-1,-2.2,-3.4,-4.6,-5.8,-7,-8.2,-9.5,-13.7,-15]],
  [1110,[10,8.8,7.6,6.4,5.2,4,2.8,1.6,.4,-.8,-2,-3.2,-4.4,-5.6,-6.8,-8,-10,-15.2,-17.2]],
  [1130,[8,6.8,5.6,4.4,3.2,2,.8,-.4,-1.6,-2.8,-4,-5.2,-6.4,-9]],
  [1145,[9.2,4,2.8,1.6,.4,-.8,-2,-3.2,-5]],
  [1165,[6.5,5,3,1.8,.6,-.6,-1.8,-3]],
  [1185,[6,4,2.6,1.2,0]],
  [1215,[4.5,2.6,1.5,.5]],
  [1255,[6.5,5.2,2.8,1.6,.4,-1]],
  [1272,[11.3,8.6,7.4,6.2,5,3.8,2.6,1.4,.2,-1,-2.2,-3.4,-4.6,-5.8,-7,-8.2,-9.4,-11,-11.5]],
  [1285,[17.1,9.3,8,6.8,5.6,4.4,3.2,2,.8,-.4,-1.6,-2.8,-4,-5.2,-6.4,-7.6,-8.8,-10,-16]],
  [1300,[8,6.8,5.6,4.4,3.2,2,.8,-.4,-1.6,-2.8,-4,-5.2,-6.4,-7.6,-9]],
  [1320,[9.2,5,3.6,2.4,1.2,0,-1.2,-2.4,-3.6,-4.8,-6,-8.5,-17.5]],
  [1345,[5,3.6,2.2,1,-.2,-2,-3.4,-5,-6.5,-18.3]],
  [1360,[2.5,1.2,0,-1.4,-2.8,-4]],
  [1410,[9.8,3.5,2.2,1,-.8]],
  [1445,[7,5.8,4.6,3.4,2.2,1,-.2,-1.4,-2.6,-3.8,-5,-6.2,-7.4,-9]],
  [1465,[13.9,11,9.6,8.4,7,5.8,4.6,3.4,2.2,1,-.2,-1.4,-2.6,-3.8,-5,-6.2,-7.4,-8.6,-9.8,-11.5,-13.2,-16.3]],
  [1480,[9.5,6.8,5.6,4.4,3.2,2,.8,-.4,-1.6,-2.8,-4,-5.2,-6.4,-8.7]],
  [1500,[7,5.8,4.6,3.4,2.2,1,-.2,-1.4,-2.6,-3.8,-5.4,-7]],
  [1530,[6,4.8,3.6,2.4,1.2,0,-1.2,-3]],
  [1555,[7,2.6,1.4,.2,-1,-2.2,-3.5]],
  [1585,[7.2,2.6,1.2,-.4,-2,-9]],
  [1595,[8.5,2.8,1,-3,-4,-7.3,-8,-15.5]],
  [1630,[7,5.8,4.6,3.4,2.2,1,-.2,-1.4,-2.6,-3.8,-5,-6.2,-8]],
  [1650,[13.9,11.7,10.4,9.2,8,6.8,5.6,4.4,3.2,2,.8,-.4,-1.6,-2.8,-4,-5.2,-6.4,-7.6,-8.8,-10.3,-12.3,-14.2]],
  [1665,[11.7,10.2,9,7.8,6.6,5.4,4.2,3,1.8,.6,-.6,-1.8,-3,-4.2,-5.4,-6.6,-7.8,-9]],
  [1690,[9.2,6.8,5.6,4.4,3.2,2,.8,-.4,-1.6,-2.8,-5]],
  [1705,[7,5.8,4.6,3.4,2.2,1,-.2,-1.4,-3,-5.5]],
  [1725,[10.6,4,2.6,1.4,.2,-1,-7.2]],
  [1750,[2,.8,-.4,-1.6,-2.5]],
  [1785,[4.5,3,2,.6,-4,-5,-13.4]],
  [1825,[13.2,7.2,6,4.8,3.6,2.4,1.2,0,-1.2,-2.4,-3.6,-4.8,-6,-7.2,-9]],
  [1840,[13,11.8,10.4,9.2,8,6.8,5.6,4.4,3.2,2,.8,-.4,-1.6,-2.8,-4,-5.2,-6.4,-7.6,-8.8,-10,-11,-19.2]],
  [1855,[8,6.8,5.6,4.4,3.2,2,.8,-.4,-1.6,-2.8,-4,-5.2,-6.4,-7.6,-8.8,-10.5,-12.4]],
  [1870,[5.5,4.3,3.1,1.9,.7,-.5,-1.7,-2.9,-4.1,-5.3,-12.3,-22.7]],
  [1885,[3.5,2.3,1.1,-.1,-1.3,-2.5,-4,-6.7]],
  [1905,[6.2,3.7,1,0,-1,-2,-3]]
];
const hivNegativeDense = [
  [28,[5.4,4,2.8,1.6,.4,-.8,-2,-3.2,-4.4,-5.6,-6.8]],[50,[6.2,4.8,3.6,2.4,1.2,0,-1.2,-2.4,-3.6,-4.8,-6]],[62,[6.8,5.4,4.2,3,1.8,.6,-.6,-1.8,-3,-4.2,-5.4,-6.6]],
  [88,[6.6,5.2,4,2.8,1.6,.4,-.8,-2,-3.2,-4.4,-5.6,-6.8]],[114,[5.6,4.2,3,1.8,.6,-.6,-1.8,-3,-4.2,-5.4]],[127,[5.2,3.6,2.4,1.2,0,-1.2,-2.4,-3.6,-4.8]],[157,[5.6,4.4,3.2,2,.8,-.4,-1.6,-2.8,-4,-5.2]],
  [187,[5.8,4.6,3.4,2.2,1,-.2,-1.4,-2.6,-3.8,-5,-6.2]],[217,[4.6,3,1.8,.6,-.6,-1.8,-3,-4.2,-5]],[252,[3,1.8,.6,-.6,-1.8,-3,-4.2]],[258,[4.4,3.4,2.2,1,-.2,-1.4,-2.6,-3.8,-5.4]],[284,[5.8,4.6,3.4,2.2,1,-.2,-1.4,-2.6,-3.8,-5,-6.2,-7.8]],
  [315,[4.4,3.2,2,.8,-.4,-1.6,-2.8,-4,-5.2]],[343,[4.6,3.4,2.2,1,-.2,-1.4,-2.6,-3.8,-5,-6]],[364,[6.2,5,3.6,2.4,1.2,0,-1.2,-2.4,-3.6,-4.8,-6,-7.2,-8.6]],[384,[6,4.6,3.4,2.2,1,-.2,-1.4,-2.6,-3.8,-5,-6.4]],
  [405,[4.4,3,1.8,.6,-.6,-1.8,-3,-4.2,-5.4]],[428,[2.6,1.2,0,-1.2,-2.4,-3.6]],[455,[1.6,.4,-.8,-2]],[543,[8.2,7,5.8,4.6,3.4,2.2,1,-.2,-1.4,-2.6,-3.8,-5,-6.2,-7.4]],[560,[8.2,7,5.8,4.6,3.4,2.2,1,-.2,-1.4,-2.6,-3.8,-5,-6.2,-7.4,-8.2]],
  [580,[7,5.4,4.2,3,1.8,.6,-.6,-1.8,-3,-4.2,-5.4,-6.6]],[602,[4.6,3.2,2,.8,-.4,-1.6,-2.8,-4]],[642,[3,1.8,.6,-.6,-1.8]],[718,[3.8,2.6,1.4,.2,-1,-2.2]],[755,[3.8,2.6,1.4,.2,-1,-2.2]],
  [914,[8.6,7,5.6,4.4,3.2,2,.8,-.4,-1.6,-2.8,-4,-5.2,-6.4,-7.6,-8.8,-10]],[928,[7.8,5.4,4.2,3,1.8,.6,-.6,-1.8,-3,-4.2,-5.4,-6.6,-7.8]],[942,[4.4,3.2,2,.8,-.4,-1.6,-2.8,-4]],[962,[2.6,1.4,.2,-1,-2.2]],[1102,[9,7.8,6.6,5.4,4.2,3,1.8,.6,-.6,-1.8,-3,-4.2,-5.4,-6.6,-7.8,-9]],
  [1120,[8.4,7.2,6,4.8,3.6,2.4,1.2,0,-1.2,-2.4,-3.6,-4.8,-6,-7.2,-8.4]],[1155,[6,4,2.2,1,-.2,-1.4,-2.6]],[1175,[5.6,3.4,2,.8,-.4,-1.6]],[1230,[2.6,1.4,.4]],[1264,[5.8,4.2,2.8,1.6,.4,-.8,-2,-3.2,-4.4]],[1279,[10,8,6.8,5.6,4.4,3.2,2,.8,-.4,-1.6,-2.8,-4,-5.2,-6.4,-7.6,-8.8,-10.2]],
  [1292,[8.6,7.4,6.2,5,3.8,2.6,1.4,.2,-1,-2.2,-3.4,-4.6,-5.8,-7,-8.2,-9.4]],[1310,[6.4,5,3.8,2.6,1.4,.2,-1,-2.2,-3.4,-4.6,-5.8,-7]],[1332,[4.6,3,1.8,.6,-.6,-1.8,-3,-4.2]],[1385,[1.2,.2,-.8]],[1455,[7.6,6.4,5.2,4,2.8,1.6,.4,-.8,-2,-3.2,-4.4,-5.6,-6.8,-8,-9.6]],
  [1473,[8.8,7.4,6.2,5,3.8,2.6,1.4,.2,-1,-2.2,-3.4,-4.6,-5.8,-7,-8.2]],[1490,[6.2,5,3.8,2.6,1.4,.2,-1,-2.2,-3.4,-4.6,-5.8,-7.2]],[1515,[6.4,5.2,4,2.8,1.6,.4,-.8,-2,-3.2,-4.4]],[1640,[7,5.6,4.4,3.2,2,.8,-.4,-1.6,-2.8,-4,-5.2,-6.4,-7.6,-9]],[1657,[11,9.8,8.6,7.4,6.2,5,3.8,2.6,1.4,.2,-1,-2.2,-3.4,-4.6,-5.8,-7,-8.2,-9.4]],
  [1678,[8,6.6,5.2,4,2.8,1.6,.4,-.8,-2,-3.2,-4.4,-5.6]],[1698,[6.4,5.2,4,2.8,1.6,.4,-.8,-2,-3.2]],[1832,[12.4,10.8,9.4,8,6.6,5.4,4.2,3,1.8,.6,-.6,-1.8,-3,-4.2,-5.4,-6.6,-7.8,-9,-10.4]],[1848,[11.2,9.8,8.4,7.2,6,4.8,3.6,2.4,1.2,0,-1.2,-2.4,-3.6,-4.8,-6,-7.2,-8.4,-9.6,-11]],
  [1862,[7.2,6,4.8,3.6,2.4,1.2,0,-1.2,-2.4,-3.6,-4.8,-6,-7.2,-8.4]],[1878,[4.8,3.6,2.4,1.2,0,-1.2,-2.4,-3.6,-4.8]],[1895,[2.6,1.4,.2,-1,-2.2]]
];

const hivPositive = [
  [8,[3,1.8,.6,-.6,-1.8,-3,-4.2,-5.4,-7.5]],
  [15,[2.4,1.2,0,-1.2,-2.4,-3.6,-5,-9.6]],
  [26,[3,1.8,.6,-.6,-1.8,-3,-4.2,-6]],
  [40,[5,3.8,2.6,1.4,.2,-1,-2.2,-3.4,-4.6,-6.2,-7.6]],
  [55,[5.2,4,2.8,1.6,.4,-.8,-2,-3.2,-5]],
  [70,[6.7,5,3.8,2.6,1.4,.2,-1,-2.2,-3.4,-5.2]],
  [90,[6,4.6,3.4,2.2,1,-.2,-1.4,-2.6,-3.8,-5.2]],
  [105,[3.5,2.3,1.1,-.1,-1.3,-2.5,-3.7,-5.2]],
  [170,[1,0,-1,-2]],
  [180,[4.5,3.2,1.8,.6,-.6,-1.8,-3,-4.2,-5.6]],
  [190,[2.8,1.6,.4,-.8,-2,-3.2,-4.5]],
  [210,[.8,0,-1]],
  [250,[.5,-.5,-1.5]],
  [265,[3,1.8,.6,-.6,-1.8,-3,-5.3]],
  [275,[6.9,5,3.4,2.2,1,-.2,-1.4,-2.6,-7.2,-9]],
  [285,[3.5,2.4,1,-.4,-1.6,-3]],
  [340,[5.2,1,0,-1,-2.7]],
  [365,[6.7,4.2,2.8,1.4,.2,-1,-2.2,-3.4,-7.4]],
  [375,[2.8,1.6,.4,-.8,-2,-3.2,-6.5]],
  [382,[2.5,1,-.4,-1.8,-5.7]],
  [400,[1,0,-1,-1.8,-2.6]],
  [540,[2,.8,-.4,-1.6,-2.8,-4,-6]],
  [552,[8,4.2,3,1.8,.6,-.6,-1.8,-3,-4.2,-7.4]],
  [565,[2,1,0,-1,-2]],
  [730,[10.8,5.8,3.7,2.8,1.8,.8,0,-.8,-1.5]],
  [920,[10.3,6.4,4.4,2.8,1.8,.8,-.2,-1.2,-2.2,-4.5,-6.7]],
  [932,[2,1,0,-1,-2,-5]],
  [1095,[10.2,7.2,3.2,2.2,1.2,.2,-.8,-1.8,-2.8,-3.8,-5.9]],
  [1120,[5.8,2.5,1.5,-6]],
  [1285,[10.5,7.6,6.6,2.8,1.8,.8,-.2,-1.2,-2.2,-3.2,-4.2,-5.6,-6.8]],
  [1295,[1.6,.6,-.6,-2,-3.4]],
  [1465,[9.3,8.5,6.4,3.5,2.4,1.4,.4,-.6,-1.6,-2.8,-5.7]],
  [1485,[-1,-2.5,-7.1]],
  [1650,[9.5,5.5,3.5,2.5,1.5,.5,-.5,-1.5,-2.5,-3.5,-4.6,-7.7]],
  [1665,[6.3,1.8,1,0,-1,-3]],
  [1840,[8.9,4,3,2,1,0,-1,-2,-3,-4,-6.5,-7.5]],
  [1852,[9.8,3,1,-.6,-2,-8.5]],
  [1905,[.4,-2,-3.3]]
];
const hivPositiveDense = [
  [20,[2.6,1.4,.2,-1,-2.2,-3.4,-4.6]],[33,[3.6,2.4,1.2,0,-1.2,-2.4,-3.6,-4.8]],[47,[4.6,3.4,2.2,1,-.2,-1.4,-2.6,-3.8,-5]],[62,[5,3.4,2.2,1,-.2,-1.4,-2.6,-3.8,-4.8]],
  [80,[5.4,4.2,3,1.8,.6,-.6,-1.8,-3,-4.2,-5]],[98,[4.4,3.2,2,.8,-.4,-1.6,-2.8,-4,-5]],[112,[2.8,1.6,.4,-.8,-2]],[358,[1.4,.4,-.6,-1.6,-2.4]],[392,[1.8,.6,-.6,-1.6]]
];

// lowess curves: knots of [age, fitted residual]
const lowessFemales = [[5,.1],[500,.1],[1000,.15],[1500,.2],[1905,.2]];
const lowessMales = [[5,.1],[500,.15],[1000,.2],[1500,.3],[1905,.3]];
const lowessZidovudine = [[5,.05],[500,.1],[1000,.15],[1500,.25],[1905,.3]];
const lowessNevirapine = [[5,.1],[500,.1],[1000,.15],[1500,.15],[1905,.15]];
const lowessNegative = [[5,0],[500,.1],[1000,.15],[1500,.2],[1905,.2]];
const lowessPositive = [[5,-.2],[300,-.25],[600,0],[1000,.05],[1500,-.05],[1905,-.2]];

const svg = d3.select("#chart");

function drawPanel(p) {
    const x = d3.scaleLinear().domain(X_DOMAIN).range([p.left, p.left + 338]);
    const y = d3.scaleLinear().domain(Y_DOMAIN).range([p.top + 183, p.top]);
    const g = svg.append("g");
    const clipId = "clip" + p.left + "_" + p.top;

    g.append("clipPath").attr("id", clipId).append("rect")
        .attr("x", p.left).attr("y", p.top).attr("width", 338).attr("height", 183);

    const points = p.cols.flatMap(c => c[1].map(r => [c[0], r]));
    g.append("g").selectAll("circle")
        .data(points)
        .join("circle")
        .attr("cx", d => x(d[0]))
        .attr("cy", d => y(d[1]))
        .attr("r", 3)
        .attr("fill", "#000");

    // zero reference line runs across the whole box
    g.append("line")
        .attr("x1", p.left).attr("x2", p.left + 338)
        .attr("y1", y(0)).attr("y2", y(0))
        .attr("stroke", "#111").attr("stroke-width", 1.2);

    g.append("path")
        .datum(p.lowess)
        .attr("clip-path", `url(#${clipId})`)
        .attr("fill", "none")
        .attr("stroke", "#c01a1a")
        .attr("stroke-width", 1.6)
        .attr("d", d3.line().x(d => x(d[0])).y(d => y(d[1])));

    g.append("rect")
        .attr("x", p.left).attr("y", p.top).attr("width", 338).attr("height", 183)
        .attr("fill", "none").attr("stroke", "#222").attr("stroke-width", 1);

    // R style axes: the domain line stops at the outer ticks
    const xAxis = g.append("g")
        .attr("transform", `translate(0,${p.top + 183})`)
        .call(d3.axisBottom(x).tickValues(X_TICKS).tickSize(7).tickPadding(11).tickFormat(d3.format("d")));
    xAxis.select(".domain").attr("d", `M${x(0)},0H${x(1500)}`);

    const yAxis = g.append("g")
        .attr("transform", `translate(${p.left},0)`)
        .call(d3.axisLeft(y).tickValues(Y_TICKS).tickSize(7).tickFormat(d => d3.format("d")(d).replace("-", "\u2212")));
    yAxis.select(".domain").attr("d", `M0,${y(-20)}V${y(10)}`);
    // tick groups already sit at y(d), so the labels only need turning
    yAxis.selectAll("text")
        .attr("x", null).attr("y", null).attr("dy", null)
        .attr("text-anchor", "middle")
        .attr("transform", "translate(-18,0) rotate(-90)");

    g.selectAll(".domain, .tick line").attr("stroke", "#222");
    g.selectAll(".tick text").attr("fill", "#222").attr("font-size", 12.5)
        .attr("font-family", '"Liberation Sans", Arial, sans-serif');

    g.append("text")
        .attr("x", p.left + 169).attr("y", p.titleY)
        .attr("text-anchor", "middle")
        .attr("font-size", 16.5).attr("font-weight", "bold").attr("fill", "#111")
        .text(p.title);

    if (p.left < 100) {
        g.append("text")
            .attr("transform", `translate(10,${p.top + 91}) rotate(-90)`)
            .attr("text-anchor", "middle")
            .attr("font-size", 13).attr("fill", "#222")
            .text("Residuals");
    }
    if (p.top > 500) {
        g.append("text")
            .attr("x", p.left + 169).attr("y", 804)
            .attr("text-anchor", "middle")
            .attr("font-size", 13).attr("fill", "#222")
            .text("Age (Days)");
    }
}

const panels = [
    {title: "Among Females", cols: females.concat(femalesDense), lowess: lowessFemales, left: 60, top: 37, titleY: 12},
    {title: "Among Males", cols: males.concat(malesDense), lowess: lowessMales, left: 461, top: 37, titleY: 12},
    {title: "On Zidovudine", cols: zidovudine.concat(zidovudineDense), lowess: lowessZidovudine, left: 60, top: 299, titleY: 282},
    {title: "On Nevirapine", cols: nevirapine.concat(nevirapineDense), lowess: lowessNevirapine, left: 461, top: 299, titleY: 282},
    {title: "HIV Negative", cols: hivNegative.concat(hivNegativeDense), lowess: lowessNegative, left: 60, top: 562, titleY: 552},
    {title: "HIV Positive", cols: hivPositive.concat(hivPositiveDense), lowess: lowessPositive, left: 461, top: 562, titleY: 552}
];
panels.forEach(drawPanel);

// legend sits in the lower right corner of the last panel
const legend = svg.append("g");
legend.append("rect")
    .attr("x", 701.5).attr("y", 713.5).attr("width", 97.5).attr("height", 31.5)
    .attr("fill", "#fff").attr("stroke", "#222");
legend.append("line")
    .attr("x1", 713).attr("x2", 737).attr("y1", 729).attr("y2", 729)
    .attr("stroke", "#d8262c").attr("stroke-width", 1.3);
legend.append("text")
    .attr("x", 749).attr("y", 734)
    .attr("font-size", 13).attr("fill", "#222")
    .text("Lowess");
</script>
</body>
</html>
